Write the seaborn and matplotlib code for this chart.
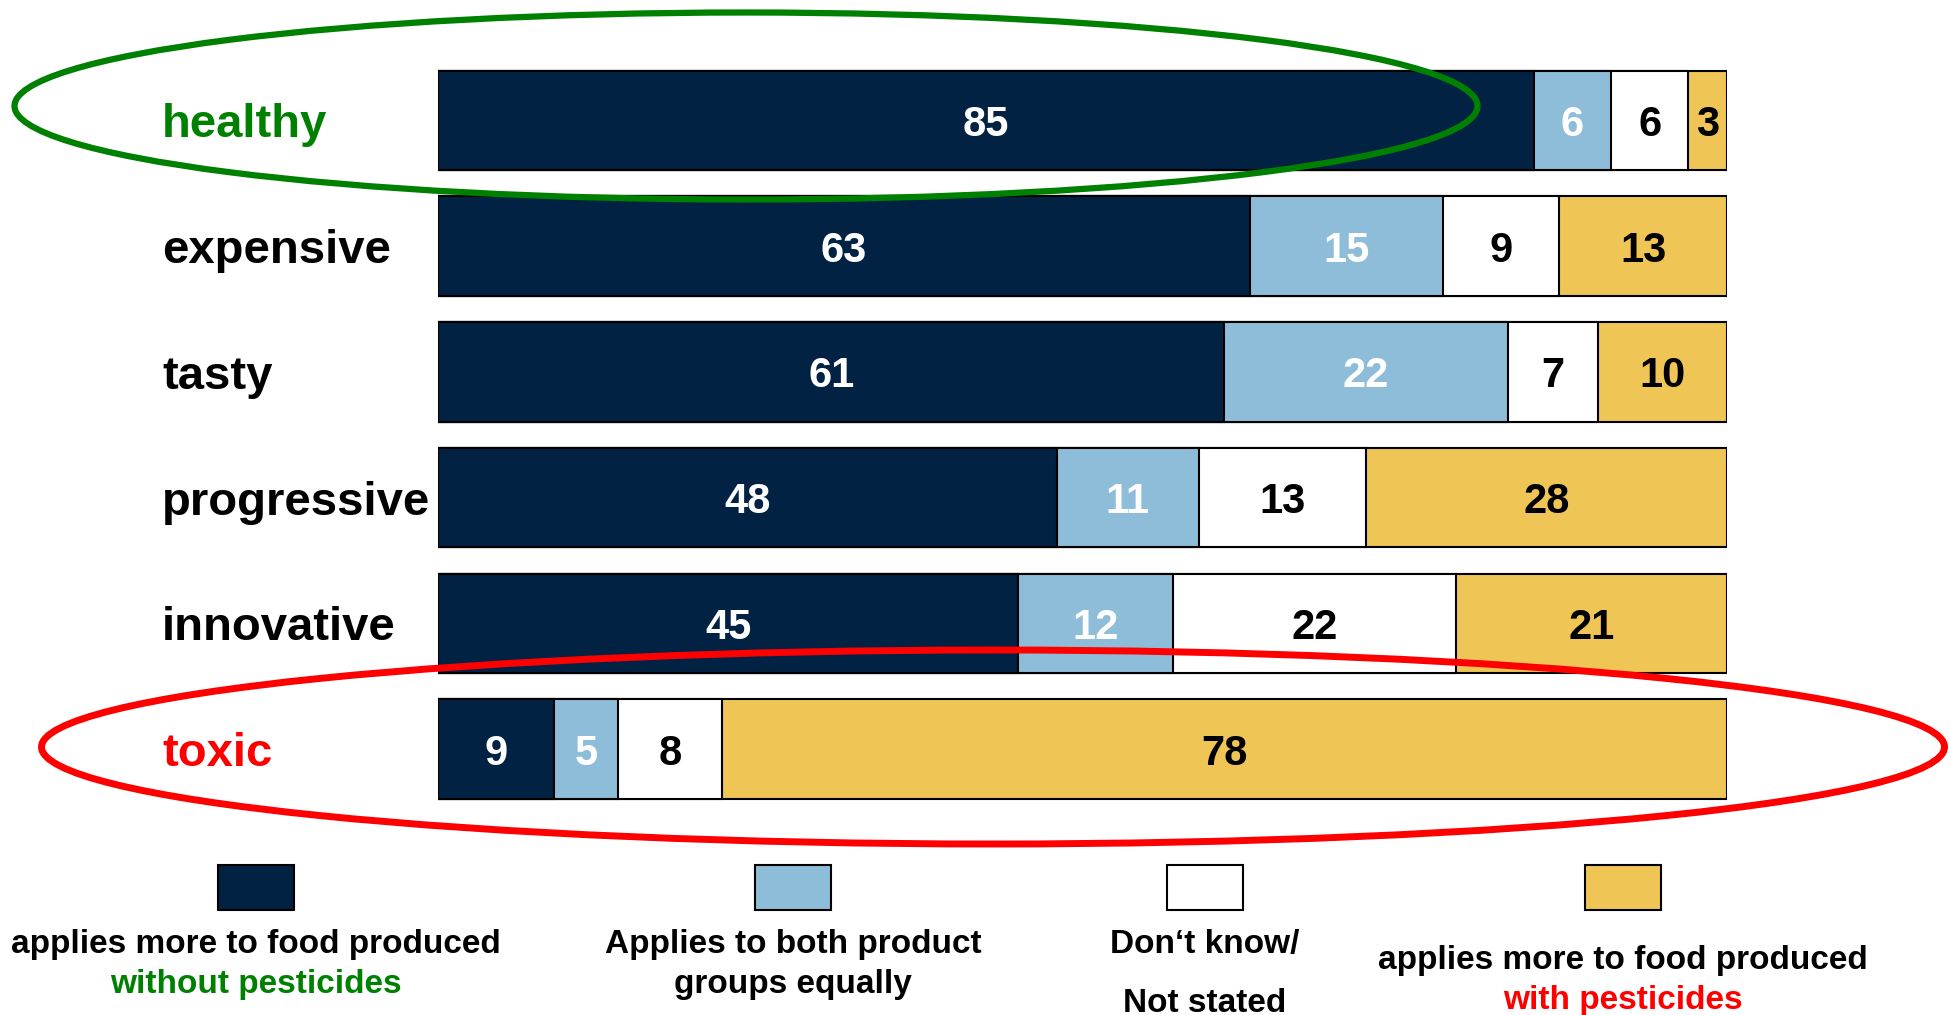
import matplotlib
matplotlib.use("Agg")
import matplotlib.pyplot as plt
from matplotlib.patches import Ellipse, Rectangle
from matplotlib.transforms import blended_transform_factory
import numpy as np
import pandas as pd
import seaborn as sns

# Survey answers (percent) per attribute
categories = ["healthy", "expensive", "tasty", "progressive", "innovative", "toxic"]
without_pesticides = [85, 63, 61, 48, 45, 9]
both_equally = [6, 15, 22, 11, 12, 5]
dont_know = [6, 9, 7, 13, 22, 8]
with_pesticides = [3, 13, 10, 28, 21, 78]

series_names = [
    "applies more to food produced without pesticides",
    "Applies to both product groups equally",
    "Don't know/ Not stated",
    "applies more to food produced with pesticides",
]
series_values = [without_pesticides, both_equally, dont_know, with_pesticides]
colors = ["#022244", "#8EBDD9", "#FFFFFF", "#EFC655"]
value_colors = ["white", "white", "black", "black"]
label_colors = ["#008000", "black", "black", "black", "black", "#FF0000"]

sns.set_theme(style="white")
plt.rcParams["font.family"] = ["Liberation Sans", "DejaVu Sans"]
plt.rcParams["font.weight"] = "bold"

W, H = 1951, 1015
fig = plt.figure(figsize=(W / 100, H / 100), dpi=100)
ax = fig.add_axes([438 / W, 1 - 812 / H, (1727 - 438) / W, (812 - 57.5) / H])

vals = np.array(series_values, dtype=float)
cum = np.cumsum(vals, axis=0)

# Stacked bars: draw cumulative totals from the outermost segment inward
for k in range(len(series_names) - 1, -1, -1):
    df = pd.DataFrame({"category": categories, "value": cum[k]})
    sns.barplot(data=df, x="value", y="category", orient="h", ax=ax,
                color=colors[k], saturation=1, width=0.79,
                edgecolor="black", linewidth=1.5)

ax.set_xlim(0, 100)
ax.set_ylim(5.5, -0.5)
ax.set_xlabel("")
ax.set_ylabel("")
ax.set_xticks([])
ax.set_yticks([])
for s in ax.spines.values():
    s.set_visible(False)

# Segment values
for k in range(len(series_names)):
    for i, cat in enumerate(categories):
        v = vals[k, i]
        start = cum[k, i] - v
        ax.text(start + v / 2, i, f"{int(v)}", ha="center", va="center_baseline",
                fontsize=30, fontweight="bold", color=value_colors[k])

# Category labels
tr = blended_transform_factory(ax.transAxes, ax.transData)
for i, cat in enumerate(categories):
    ax.text(-0.214, i, cat, transform=tr, ha="left", va="center_baseline",
            fontsize=34, fontweight="bold", color=label_colors[i])

# Highlight ellipses
fig.add_artist(Ellipse((746 / W, 1 - 106 / H), 1463 / W, 187 / H,
                       transform=fig.transFigure, fill=False,
                       edgecolor="#008000", linewidth=4.5))
fig.add_artist(Ellipse((993 / W, 1 - 747 / H), 1903 / W, 194 / H,
                       transform=fig.transFigure, fill=False,
                       edgecolor="#FF0000", linewidth=5))

# Legend: swatches with captions underneath
centers = [256, 793, 1205, 1623]
sw_w, sw_h, sw_top = 76, 45, 865
for cx, col in zip(centers, colors):
    fig.add_artist(Rectangle(((cx - sw_w / 2) / W, 1 - (sw_top + sw_h) / H),
                             sw_w / W, sw_h / H, transform=fig.transFigure,
                             facecolor=col, edgecolor="black", linewidth=1.5))

legend_lines = [
    [("applies more to food produced", 945, "black"), ("without pesticides", 984, "#008000")],
    [("Applies to both product", 945, "black"), ("groups equally", 984, "black")],
    [("Don\u2018t know/", 945, "black"), ("Not stated", 1003, "black")],
    [("applies more to food produced", 961, "black"), ("with pesticides", 1001, "#FF0000")],
]
for cx, lines in zip(centers, legend_lines):
    for txt, y, col in lines:
        fig.text(cx / W, 1 - y / H, txt, ha="center", va="center",
                 fontsize=24, fontweight="bold", color=col)

fig.savefig("out.png", dpi=100)
